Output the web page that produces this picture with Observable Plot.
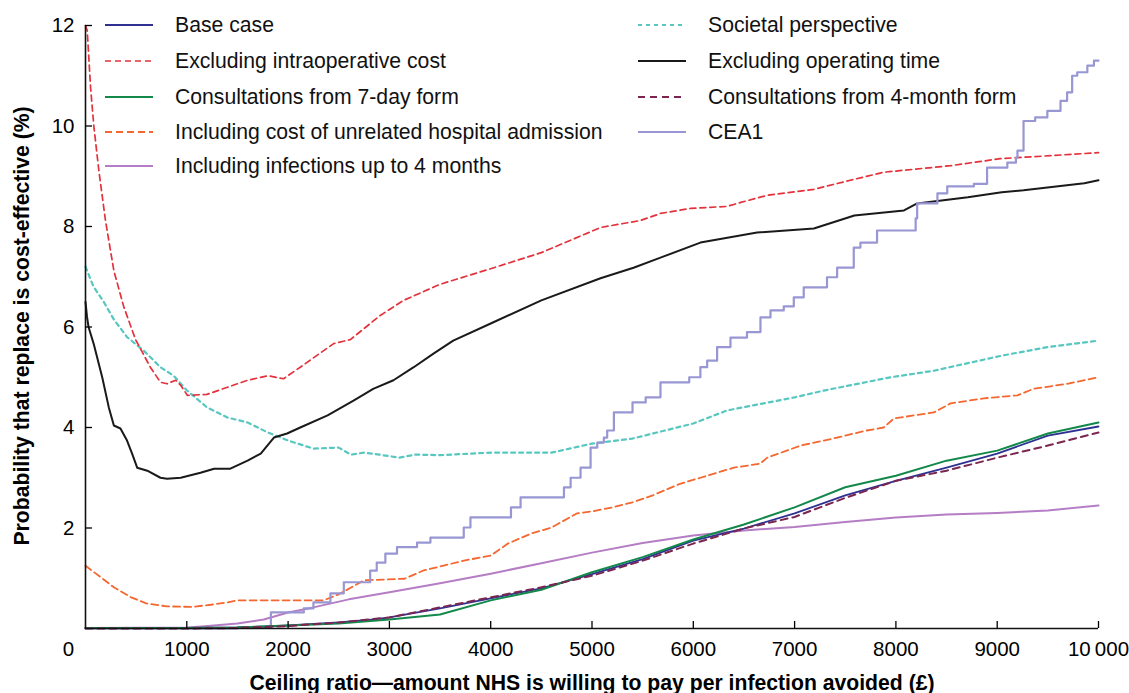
<!DOCTYPE html>
<html><head><meta charset="utf-8">
<script src="https://cdn.jsdelivr.net/npm/d3@7"></script>
<script src="https://cdn.jsdelivr.net/npm/@observablehq/plot@0.6"></script>
<style>
body{margin:0;background:#fff;font-family:"Liberation Sans",Arial,Helvetica,sans-serif;}
#wrap{position:relative;width:1129px;height:693px;overflow:hidden;}
.leg{position:absolute;display:flex;align-items:center;font-size:21.2px;color:#111;white-space:nowrap;line-height:1;}
.leg svg{margin-right:22px;}
.title{position:absolute;font-weight:bold;font-size:21.2px;color:#000;white-space:nowrap;}
</style></head><body><div id="wrap"></div>
<script>
// ---- data ----
const seriesNames = [
  "Base case","Excluding intraoperative cost","Consultations from 7-day form",
  "Including cost of unrelated hospital admission","Including infections up to 4 months",
  "Societal perspective","Excluding operating time","Consultations from 4-month form","CEA1"
];
const baseCase = [[0,0.01],[500,0.01],[1000,0.01],[1500,0.02],[1800,0.04],[2000,0.06],[2500,0.12],[2850,0.18],[3000,0.22],[3500,0.4],[4000,0.6],[4500,0.8],[5000,1.08],[5500,1.38],[6000,1.75],[6500,1.99],[7000,2.29],[7500,2.65],[8000,2.94],[8500,3.2],[9000,3.48],[9500,3.84],[10000,4.02]];
const exclIntraop = [[0,12],[17,11.9],[50,10.77],[82,10.0],[132,9.11],[197,8.12],[280,7.12],[378,6.4],[494,5.75],[640,5.2],[740,4.9],[805,4.87],[890,4.94],[940,4.84],[1005,4.64],[1200,4.66],[1400,4.8],[1600,4.94],[1800,5.03],[1955,4.97],[2120,5.2],[2450,5.67],[2615,5.75],[2910,6.23],[3140,6.53],[3500,6.85],[4000,7.16],[4500,7.48],[5084,7.98],[5480,8.12],[5676,8.26],[5972,8.36],[6335,8.4],[6470,8.48],[6730,8.62],[7190,8.74],[7550,8.92],[7880,9.08],[8540,9.21],[9030,9.35],[9530,9.41],[10000,9.47]];
const consult7day = [[0,0.01],[1000,0.01],[1500,0.02],[2000,0.06],[2500,0.1],[3000,0.18],[3500,0.28],[4000,0.56],[4500,0.77],[5000,1.12],[5500,1.42],[6000,1.77],[6500,2.07],[7000,2.41],[7500,2.81],[8000,3.04],[8500,3.34],[9000,3.54],[9500,3.88],[10000,4.1]];
const unrelatedAdmission = [[0,1.25],[150,1.02],[280,0.82],[450,0.62],[600,0.5],[800,0.44],[1050,0.43],[1270,0.48],[1400,0.52],[1500,0.56],[2350,0.56],[2500,0.68],[2750,0.96],[3150,0.99],[3330,1.15],[3735,1.35],[4000,1.45],[4170,1.69],[4400,1.89],[4600,2.01],[4850,2.29],[5000,2.33],[5200,2.41],[5400,2.51],[5600,2.65],[5870,2.88],[6070,3.0],[6400,3.2],[6660,3.28],[6730,3.4],[7060,3.64],[7380,3.78],[7710,3.94],[7880,4.0],[7980,4.18],[8375,4.3],[8540,4.48],[8870,4.58],[9200,4.64],[9360,4.77],[9690,4.87],[10000,5.0]];
const infections4m = [[0,0.01],[1000,0.02],[1150,0.04],[1500,0.1],[1760,0.18],[2000,0.32],[2250,0.42],[2600,0.58],[3000,0.72],[3500,0.9],[4000,1.09],[4500,1.3],[5000,1.51],[5500,1.7],[6000,1.85],[6500,1.95],[7000,2.02],[7500,2.12],[8000,2.21],[8500,2.27],[9000,2.3],[9500,2.35],[10000,2.45]];
const societal = [[0,7.2],[80,6.8],[180,6.5],[280,6.15],[410,5.8],[575,5.53],[740,5.2],[870,5.03],[1000,4.74],[1200,4.4],[1400,4.2],[1600,4.1],[1800,3.9],[2000,3.74],[2250,3.58],[2500,3.6],[2620,3.46],[2750,3.5],[2900,3.46],[3100,3.4],[3250,3.46],[3500,3.45],[4000,3.5],[4600,3.5],[5000,3.68],[5400,3.78],[6000,4.08],[6335,4.34],[7000,4.6],[7300,4.74],[7950,5.0],[8375,5.13],[9045,5.43],[9500,5.6],[10000,5.73]];
const exclOpTime = [[0,6.5],[15,6.2],[30,6.0],[80,5.67],[165,5.0],[230,4.4],[280,4.04],[345,3.98],[410,3.74],[460,3.48],[510,3.2],[610,3.14],[740,3.0],[805,2.98],[940,3.0],[1135,3.1],[1270,3.18],[1430,3.18],[1600,3.34],[1730,3.48],[1860,3.8],[1990,3.88],[2120,4.0],[2390,4.24],[2650,4.54],[2840,4.77],[3040,4.94],[3240,5.2],[3435,5.47],[3630,5.73],[4000,6.07],[4500,6.53],[5084,6.97],[5410,7.18],[5676,7.38],[6070,7.68],[6630,7.88],[7190,7.96],[7590,8.22],[8080,8.32],[8210,8.46],[8710,8.58],[9045,8.68],[9260,8.72],[9860,8.86],[10000,8.92]];
const consult4month = [[0,0.0],[1000,0.0],[1500,0.01],[2000,0.05],[2500,0.12],[3000,0.22],[3500,0.42],[4000,0.62],[4500,0.82],[5000,1.05],[5500,1.35],[6000,1.69],[6500,1.99],[7000,2.22],[7500,2.6],[8000,2.94],[8500,3.14],[9000,3.4],[9500,3.64],[10000,3.9]];
const cea1 = [[0,0.0],[1500,0.02],[1830,0.32],[2155,0.4],[2250,0.52],[2418,0.7],[2550,0.92],[2810,1.15],[2875,1.31],[2960,1.49],[3075,1.62],[3273,1.71],[3405,1.81],[3734,2.01],[3800,2.21],[4200,2.41],[4295,2.61],[4723,2.81],[4789,3.0],[4887,3.2],[4986,3.6],[5052,3.7],[5117,3.8],[5150,3.94],[5216,4.3],[5400,4.5],[5530,4.6],[5676,4.9],[5960,5.0],[6070,5.2],[6137,5.33],[6235,5.6],[6367,5.79],[6530,5.9],[6663,6.19],[6762,6.33],[6893,6.41],[6992,6.59],[7090,6.79],[7320,6.99],[7420,7.18],[7584,7.58],[7650,7.68],[7814,7.92],[8195,8.16],[8210,8.46],[8410,8.66],[8507,8.8],[8770,8.85],[8900,9.17],[9100,9.27],[9185,9.37],[9200,9.51],[9260,10.1],[9375,10.17],[9495,10.3],[9625,10.5],[9690,10.67],[9740,11.0],[9790,11.07],[9890,11.2],[9955,11.3],[10000,11.3]];
const xTicks = [1000,2000,3000,4000,5000,6000,7000,8000,9000,10000];
const xTickLabels = ["1000","2000","3000","4000","5000","6000","7000","8000","9000","10\u2009000"];
const xOrigin = [0];
const xOriginLabel = ["0"];
const yTicks = [2,4,6,8,10,12];
const yTickLabels = ["2","4","6","8","10","12"];
const xTitle = "Ceiling ratio\u2014amount NHS is willing to pay per infection avoided (\u00a3)";
const yTitle = "Probability that replace is cost-effective (%)";

// ---- styles ----
const seriesData = [baseCase, exclIntraop, consult7day, unrelatedAdmission, infections4m, societal, exclOpTime, consult4month, cea1];
const styles = [
  {color:"#2e3192", dash:null, w:1.8, curve:"linear"},
  {color:"#e2333d", dash:"6,4", w:1.7, curve:"linear"},
  {color:"#12884a", dash:null, w:2, curve:"linear"},
  {color:"#f4672f", dash:"7,4", w:1.8, curve:"linear"},
  {color:"#b57dc4", dash:null, w:2, curve:"linear"},
  {color:"#57c7c0", dash:"4,4", w:2.2, curve:"linear"},
  {color:"#1a1a1a", dash:null, w:2, curve:"linear"},
  {color:"#7b2650", dash:"7,5", w:2, curve:"linear"},
  {color:"#9896d3", dash:null, w:2.2, curve:"step-after"}
];
const drawOrder = [4,3,5,1,6,8,0,2,7];

const W = 1129, H = 693;
const marks = [];
for (const i of drawOrder) {
  const s = styles[i];
  marks.push(Plot.line(seriesData[i], {x: d => d[0], y: d => d[1], stroke: s.color, strokeWidth: s.w,
    strokeDasharray: s.dash || undefined, curve: s.curve}));
}
marks.push(Plot.ruleX(xOrigin, {x: d => d, stroke: "#111", strokeWidth: 1.6}));
marks.push(Plot.ruleY([0], {y: d => d, stroke: "#111", strokeWidth: 1.6}));
marks.push(Plot.axisX({ticks: xTicks, tickSize: -7, tickPadding: 20, strokeWidth: 1.3,
  tickFormat: d => xTickLabels[xTicks.indexOf(d)], fontSize: 20.5, label: null}));
marks.push(Plot.axisY({ticks: yTicks, tickSize: -7, tickPadding: 18, strokeWidth: 1.3,
  tickFormat: d => yTickLabels[yTicks.indexOf(d)], fontSize: 20.5, label: null}));
marks.push(Plot.text(xOrigin, {x: d => d, frameAnchor: "bottom", lineAnchor: "top", dy: 13, dx: -17,
  text: (d, i) => xOriginLabel[i], fontSize: 20.5}));

const chart = Plot.plot({
  width: W, height: H,
  marginLeft: 85, marginRight: 31, marginTop: 25, marginBottom: 65,
  x: {domain: [0, 10000]},
  y: {domain: [0, 12]},
  style: {fontFamily: '"Liberation Sans", Arial, Helvetica, sans-serif', fontSize: "20.5px", color: "#000", background: "#fff"},
  marks
});
const wrap = document.getElementById("wrap");
wrap.appendChild(chart);

// ---- legend (HTML overlay inside the plot area) ----
const legendCols = [[0,1,2,3,4],[5,6,7,8]];
const colX = [105, 638];
const rowY = [25, 61, 97, 132, 166];
legendCols.forEach((col, c) => {
  col.forEach((idx, r) => {
    const s = styles[idx];
    const div = document.createElement("div");
    div.className = "leg";
    div.style.left = colX[c] + "px";
    div.style.top = (rowY[r] - 12) + "px";
    div.style.height = "24px";
    div.innerHTML = `<svg width="48" height="6"><line x1="0" y1="3" x2="48" y2="3" stroke="${s.color}" stroke-width="${s.w}" ${s.dash ? `stroke-dasharray="${s.dash}"` : ""}/></svg><span>${seriesNames[idx]}</span>`;
    wrap.appendChild(div);
  });
});

// axis titles
const xt = document.createElement("div");
xt.className = "title"; xt.textContent = xTitle;
xt.style.left = "592px"; xt.style.top = "671px"; xt.style.transform = "translateX(-50%)";
wrap.appendChild(xt);
const yt = document.createElement("div");
yt.className = "title"; yt.textContent = yTitle;
yt.style.left = "22px"; yt.style.top = "326px"; yt.style.transform = "translate(-50%,-50%) rotate(-90deg)";
wrap.appendChild(yt);
</script>
</body></html>
